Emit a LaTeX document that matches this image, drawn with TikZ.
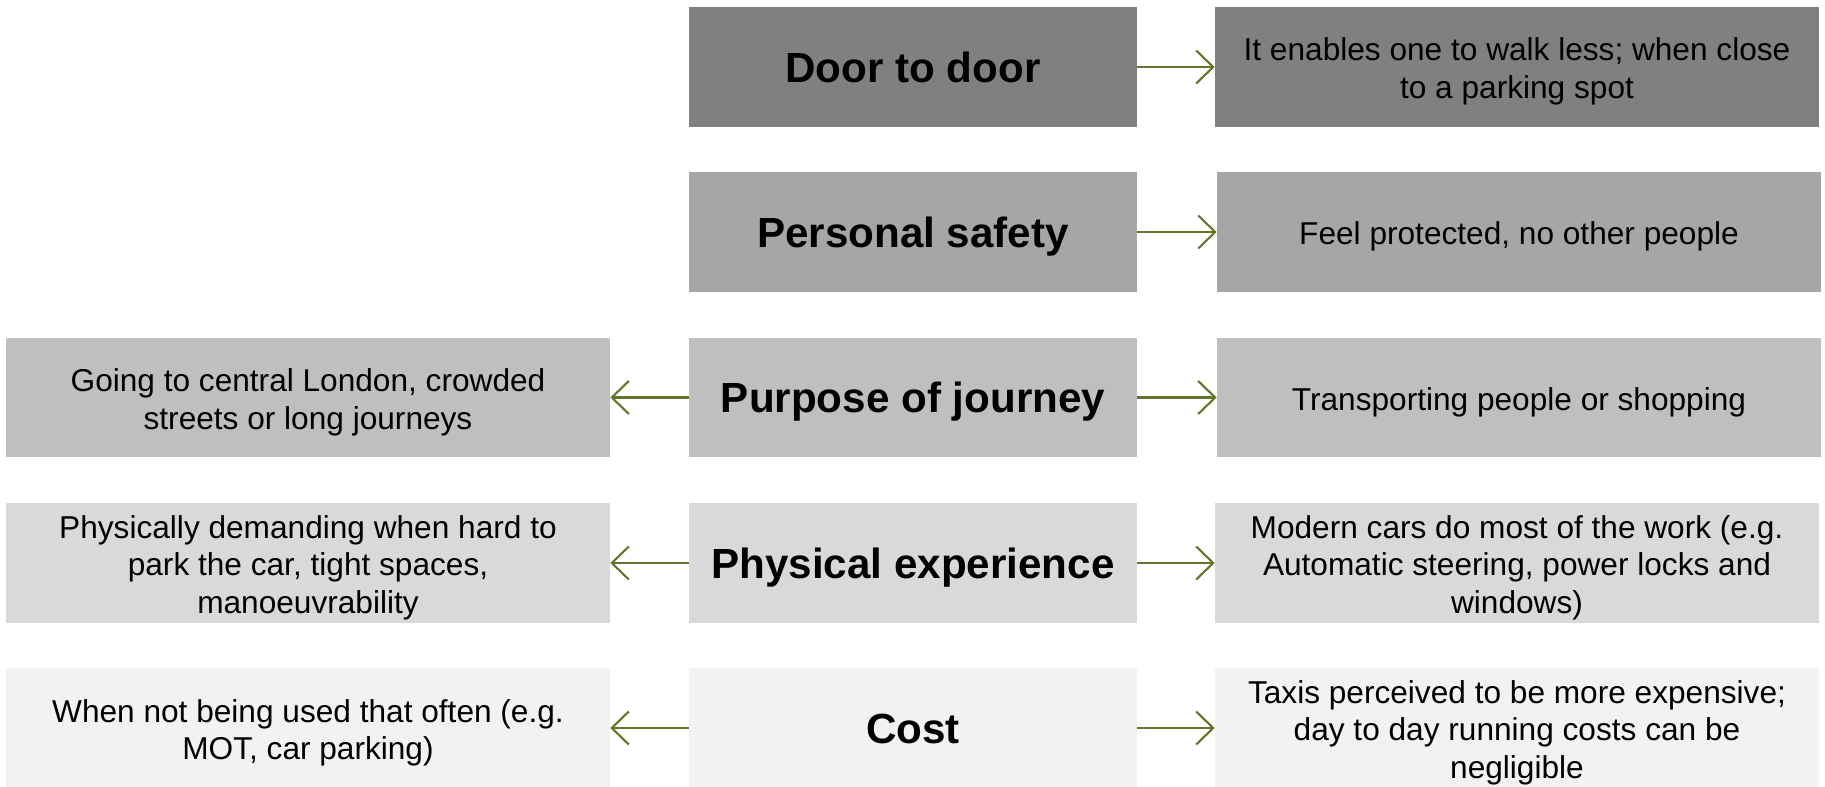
\documentclass[tikz,border=0pt]{standalone}
\usepackage{fontspec}
\setmainfont{Liberation Sans}
\usetikzlibrary{arrows.meta,positioning}
\definecolor{greyA}{HTML}{808080}
\definecolor{greyB}{HTML}{A6A6A6}
\definecolor{greyC}{HTML}{BFBFBF}
\definecolor{greyD}{HTML}{D9D9D9}
\definecolor{greyE}{HTML}{F2F2F2}
\definecolor{olive}{RGB}{98,117,43}
% lowers a text block a little, as the original centres it
\newcommand{\topstrut}{\rule{0pt}{18.4pt}}
\tikzset{
    factor/.style={
    rectangle,minimum width=8.96cm,minimum height=2.4cm,inner sep=0pt,
    text height=17.3pt,text depth=0pt,
    font=\fontsize{24}{28}\selectfont\bfseries
    },
    detail/.style={
    rectangle,minimum width=12.08cm,minimum height=2.4cm,inner sep=0pt,align=center,
    font=\fontsize{18}{21.5}\selectfont
    },
    link/.style={
    draw=olive,line width=1.2pt,-{Straight Barb[length=3.4mm,width=6.6mm]}
    },
}
\begin{document}
\begin{tikzpicture}[x=0.02cm,y=-0.02cm]
   \useasboundingbox (0,0) rectangle (1825,787);
   % middle column
   \node[factor,fill=greyA] (door) at (913,67) {Door to door};
   \node[factor,fill=greyB] (safety) at (913,232) {Personal safety};
   \node[factor,fill=greyC] (purpose) at (913,397.5) {Purpose of journey};
   \node[factor,fill=greyD] (physical) at (913,563) {Physical experience};
   \node[factor,fill=greyE] (cost) at (913,728) {Cost};
   % right column
   \node[detail,fill=greyA] (door-r) at (1517,67) {\topstrut It enables one to walk less; when close\\to a parking spot};
   \node[detail,fill=greyB] (safety-r) at (1519,232) {\topstrut Feel protected, no other people};
   \node[detail,fill=greyC] (purpose-r) at (1519,397.5) {\topstrut Transporting people or shopping};
   \node[detail,fill=greyD] (physical-r) at (1517,563) {\topstrut Modern cars do most of the work (e.g.\\Automatic steering, power locks and\\windows)};
   \node[detail,fill=greyE] (cost-r) at (1517,728) {\topstrut Taxis perceived to be more expensive;\\day to day running costs can be\\negligible};
   % left column
   \node[detail,fill=greyC] (purpose-l) at (308,397.5) {\topstrut Going to central London, crowded\\streets or long journeys};
   \node[detail,fill=greyD] (physical-l) at (308,563) {\topstrut Physically demanding when hard to\\park the car, tight spaces,\\manoeuvrability};
   \node[detail,fill=greyE] (cost-l) at (308,728) {\topstrut When not being used that often (e.g.\\MOT, car parking)};

   \draw[link] (door) -- (door-r);
   \draw[link] (safety) -- (safety-r);
   \draw[link] (purpose) -- (purpose-r);
   \draw[link] (physical) -- (physical-r);
   \draw[link] (cost) -- (cost-r);
   \draw[link] (purpose) -- (purpose-l);
   \draw[link] (physical) -- (physical-l);
   \draw[link] (cost) -- (cost-l);
\end{tikzpicture}
\end{document}
